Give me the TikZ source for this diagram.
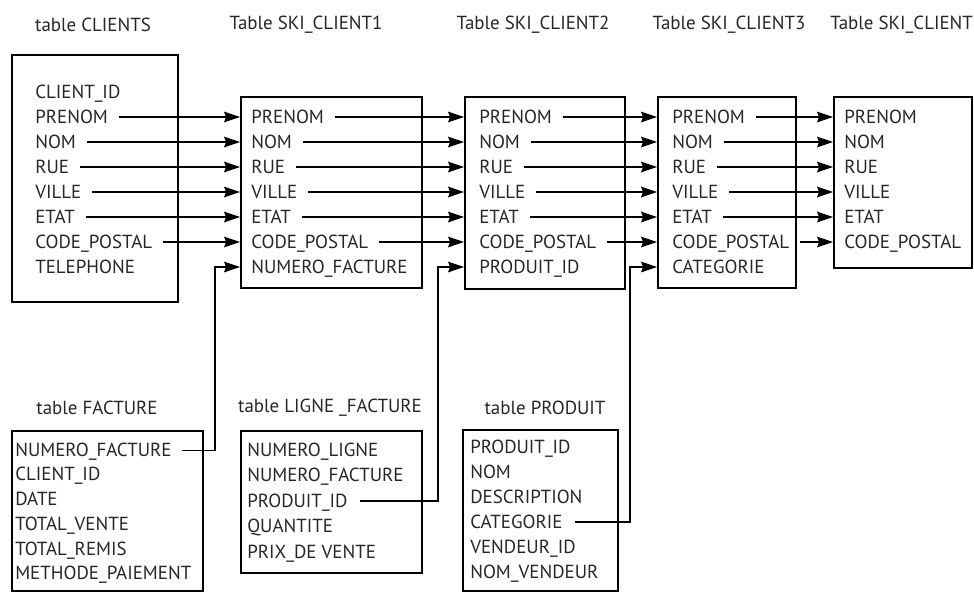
\documentclass[tikz,border=0pt]{standalone}
\usepackage{fontspec}
\setmainfont{PT Sans}
\usetikzlibrary{arrows.meta,fit}

\begin{document}
\begin{tikzpicture}[x=0.75pt,y=-0.75pt,
    tbl/.style={draw, line width=1.4pt, inner sep=0pt},
    fld/.style={anchor=west, inner sep=0pt, text height=10pt, text depth=1pt,
      font=\fontsize{14.2}{16}\selectfont, text=black!85},
    ttl/.style={inner sep=0pt, font=\fontsize{14.2}{16}\selectfont, text=black!85},
    lnk/.style={line width=0.9pt, -{Stealth[length=12pt,width=8pt,inset=1.5pt]}}]

    \useasboundingbox (0,0) rectangle (974,593);

    % titles
    \node[ttl] (t0) at (93,25) {table CLIENTS};
    \node[ttl] (t1) at (306,25) {Table SKI\_CLIENT1};
    \node[ttl] (t2) at (533,25) {Table SKI\_CLIENT2};
    \node[ttl] (t3) at (729,25) {Table SKI\_CLIENT3};
    \node[ttl, anchor=west] (t4) at (830,25) {Table SKI\_CLIENT};
    \node[ttl] (tf) at (97,408) {table FACTURE};
    \node[ttl] (tl) at (330,408) {table LIGNE \_FACTURE};
    \node[ttl] (tp) at (545,408) {table PRODUIT};

    % boxes
    \node[tbl, fit={(12,55) (178,302)}] (c0) {};
    \node[tbl, fit={(241,97) (422,288)}] (c1) {};
    \node[tbl, fit={(465,97) (625,289)}] (c2) {};
    \node[tbl, fit={(658,97) (796,288)}] (c3) {};
    \node[tbl, fit={(834,97) (972,268)}] (c4) {};
    \node[tbl, fit={(12,431) (203,591)}] (f) {};
    \node[tbl, fit={(241,431) (422,573)}] (l) {};
    \node[tbl, fit={(463,430) (618,591)}] (p) {};

    % fields
    \foreach \n [count=\i] in {CLIENT\_ID, PRENOM, NOM, RUE, VILLE, ETAT, CODE\_POSTAL, TELEPHONE}
        \node[fld] (c0-\i) at (35,{67+25*\i}) {\n};
    \foreach \n [count=\i] in {PRENOM, NOM, RUE, VILLE, ETAT, CODE\_POSTAL, NUMERO\_FACTURE}
        \node[fld] (c1-\i) at (251,{92+25*\i}) {\n};
    \foreach \n [count=\i] in {PRENOM, NOM, RUE, VILLE, ETAT, CODE\_POSTAL, PRODUIT\_ID}
        \node[fld] (c2-\i) at (479,{92+25*\i}) {\n};
    \foreach \n [count=\i] in {PRENOM, NOM, RUE, VILLE, ETAT, CODE\_POSTAL, CATEGORIE}
        \node[fld] (c3-\i) at (672,{92+25*\i}) {\n};
    \foreach \n [count=\i] in {PRENOM, NOM, RUE, VILLE, ETAT, CODE\_POSTAL}
        \node[fld] (c4-\i) at (844,{92+25*\i}) {\n};
    \foreach \n [count=\i] in {NUMERO\_FACTURE, CLIENT\_ID, DATE, TOTAL\_VENTE, TOTAL\_REMIS, METHODE\_PAIEMENT}
        \node[fld] (f-\i) at (15,{425.5+24.7*\i}) {\n};
    \foreach \n [count=\i] in {NUMERO\_LIGNE, NUMERO\_FACTURE, PRODUIT\_ID, QUANTITE, PRIX\_DE VENTE}
        \node[fld] (l-\i) at (247,{424.5+25.5*\i}) {\n};
    \foreach \n [count=\i] in {PRODUIT\_ID, NOM, DESCRIPTION, CATEGORIE, VENDEUR\_ID, NOM\_VENDEUR}
        \node[fld] (p-\i) at (470,{422+25*\i}) {\n};

    % same columns from table to table
    \foreach \i in {1,...,6} {
        \pgfmathtruncatemacro\j{\i+1}
        \draw[lnk] ([xshift=8pt]c0-\j.east) -- (c0-\j.east -| c1.west);
    }
    \foreach \s/\t in {c1/c2, c2/c3, c3/c4}
        \foreach \i in {1,...,6}
            \draw[lnk] ([xshift=8pt]\s-\i.east) -- (\s-\i.east -| \t.west);

    % keys coming up from the lower tables
    \coordinate (k1) at (215,0);
    \coordinate (k2) at (438,0);
    \coordinate (k3) at (630,0);
    \draw[lnk] ([xshift=8pt]f-1.east) -| (k1 |- c1-7) -- (c1-7 -| c1.west);
    \draw[lnk] ([xshift=9pt]l-3.east) -| (k2 |- c2-7) -- (c2-7 -| c2.west);
    \draw[lnk] ([xshift=9pt]p-4.east) -| (k3 |- c3-7) -- (c3-7 -| c3.west);
\end{tikzpicture}
\end{document}
